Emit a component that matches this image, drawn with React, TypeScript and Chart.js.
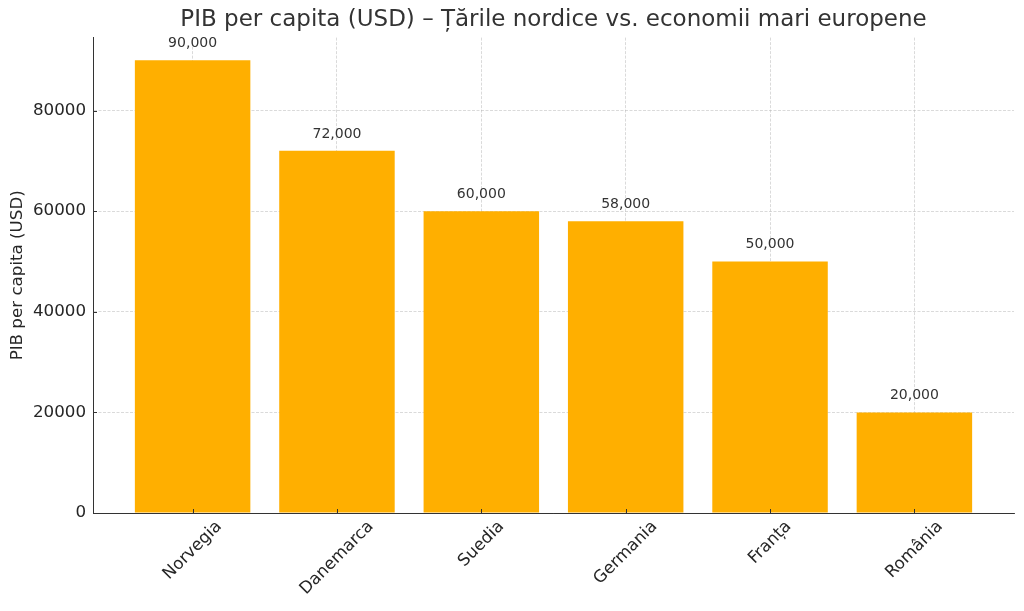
import { useEffect, useRef } from "react";
import { Chart, registerables, type ChartConfiguration, type Plugin } from "chart.js";

Chart.register(...registerables);

const FONT = "'DejaVu Sans', sans-serif";
Chart.defaults.font.family = FONT;

// date
const countries = ["Norvegia", "Danemarca", "Suedia", "Germania", "Franța", "România"];
const gdpPerCapita = [90000, 72000, 60000, 58000, 50000, 20000];
const yTicks = [0, 20000, 40000, 60000, 80000];

const TITLE = "PIB per capita (USD) – Țările nordice vs. economii mari europene";
const Y_TITLE = "PIB per capita (USD)";

const GRID = "rgba(176,176,176,0.6)";
const SPINE = "#333333";
const TEXT = "#262626";

/**
 * Ticks spre interior, etichete de valoare deasupra barelor și etichete
 * rotite la 45° centrate pe tick (ca în matplotlib).
 */
const decorPlugin: Plugin<"bar"> = {
  id: "decor",
  afterDraw(chart) {
    const { ctx, chartArea, scales } = chart;
    const xs = scales.x;
    const ys = scales.y;
    ctx.save();

    ctx.strokeStyle = SPINE;
    ctx.lineWidth = 1;
    ctx.beginPath();
    yTicks.forEach((v) => {
      const py = Math.round(ys.getPixelForValue(v)) + 0.5;
      ctx.moveTo(chartArea.left, py);
      ctx.lineTo(chartArea.left + 4, py);
    });
    countries.forEach((_, i) => {
      const px = Math.round(xs.getPixelForValue(i)) + 0.5;
      ctx.moveTo(px, chartArea.bottom);
      ctx.lineTo(px, chartArea.bottom - 4);
    });
    ctx.stroke();

    const meta = chart.getDatasetMeta(0);
    ctx.fillStyle = "#333333";
    ctx.font = `14px ${FONT}`;
    ctx.textAlign = "center";
    ctx.textBaseline = "alphabetic";
    meta.data.forEach((bar, i) => {
      ctx.fillText(gdpPerCapita[i].toLocaleString("en-US"), bar.x, bar.y - 13);
    });

    const size = 16.7;
    ctx.font = `${size}px ${FONT}`;
    ctx.fillStyle = TEXT;
    countries.forEach((label, i) => {
      const px = xs.getPixelForValue(i);
      const w = ctx.measureText(label).width;
      const half = ((w + size) * Math.SQRT1_2) / 2;
      ctx.save();
      ctx.translate(px, chartArea.bottom + 5 + half);
      ctx.rotate(-Math.PI / 4);
      ctx.textAlign = "center";
      ctx.textBaseline = "middle";
      ctx.fillText(label, 0, 0);
      ctx.restore();
    });

    ctx.restore();
  },
};

function GdpChart() {
  const canvasRef = useRef<HTMLCanvasElement>(null);
  const chartRef = useRef<Chart | null>(null);

  useEffect(() => {
    if (!canvasRef.current) return;

    const cfg: ChartConfiguration<"bar", { x: number; y: number }[], string> = {
      type: "bar",
      data: {
        datasets: [
          {
            data: gdpPerCapita.map((v, i) => ({ x: i, y: v })),
            backgroundColor: "#FFAF00",
            borderWidth: 0,
            barPercentage: 0.8,
            categoryPercentage: 1,
          },
        ],
      },
      options: {
        animation: false,
        responsive: true,
        maintainAspectRatio: false,
        layout: { padding: { left: 0, right: 10, top: 0, bottom: 0 } },
        plugins: {
          legend: { display: false },
          tooltip: { enabled: false },
          title: {
            display: true,
            text: TITLE,
            fullSize: false,
            color: "#333333",
            font: { size: 23, weight: "normal" },
            padding: { top: 6, bottom: 4 },
          },
        },
        scales: {
          x: {
            type: "linear",
            min: -0.69,
            max: 5.69,
            offset: false,
            afterBuildTicks: (s) => {
              s.ticks = countries.map((_, i) => ({ value: i }));
            },
            afterFit: (s) => {
              s.height = 98;
            },
            ticks: { display: false },
            grid: { color: GRID, lineWidth: 0.8, drawTicks: false, offset: false },
            border: { display: true, color: SPINE, width: 1, dash: [3, 1.5] },
            z: 1,
          },
          y: {
            min: 0,
            max: 94500,
            afterBuildTicks: (s) => {
              s.ticks = yTicks.map((v) => ({ value: v }));
            },
            afterFit: (s) => {
              s.width = 93;
            },
            ticks: {
              color: TEXT,
              font: { size: 16.7 },
              padding: 7,
              callback: (v) => String(v),
            },
            grid: { color: GRID, lineWidth: 0.8, drawTicks: false },
            border: { display: true, color: SPINE, width: 1, dash: [3, 1.5] },
            title: {
              display: true,
              text: Y_TITLE,
              color: TEXT,
              font: { size: 16.7 },
              padding: { top: 8, bottom: 0 },
            },
            z: 1,
          },
        },
      },
      plugins: [decorPlugin],
    };
    chartRef.current = new Chart(canvasRef.current, cfg);
    return () => {
      chartRef.current?.destroy();
      chartRef.current = null;
    };
  }, []);

  return (
    <div style={{ position: "absolute", left: 0, top: 0, width: 1024, height: 611, background: "#fff" }}>
      <canvas ref={canvasRef} />
    </div>
  );
}

export default function App() {
  return <GdpChart />;
}
